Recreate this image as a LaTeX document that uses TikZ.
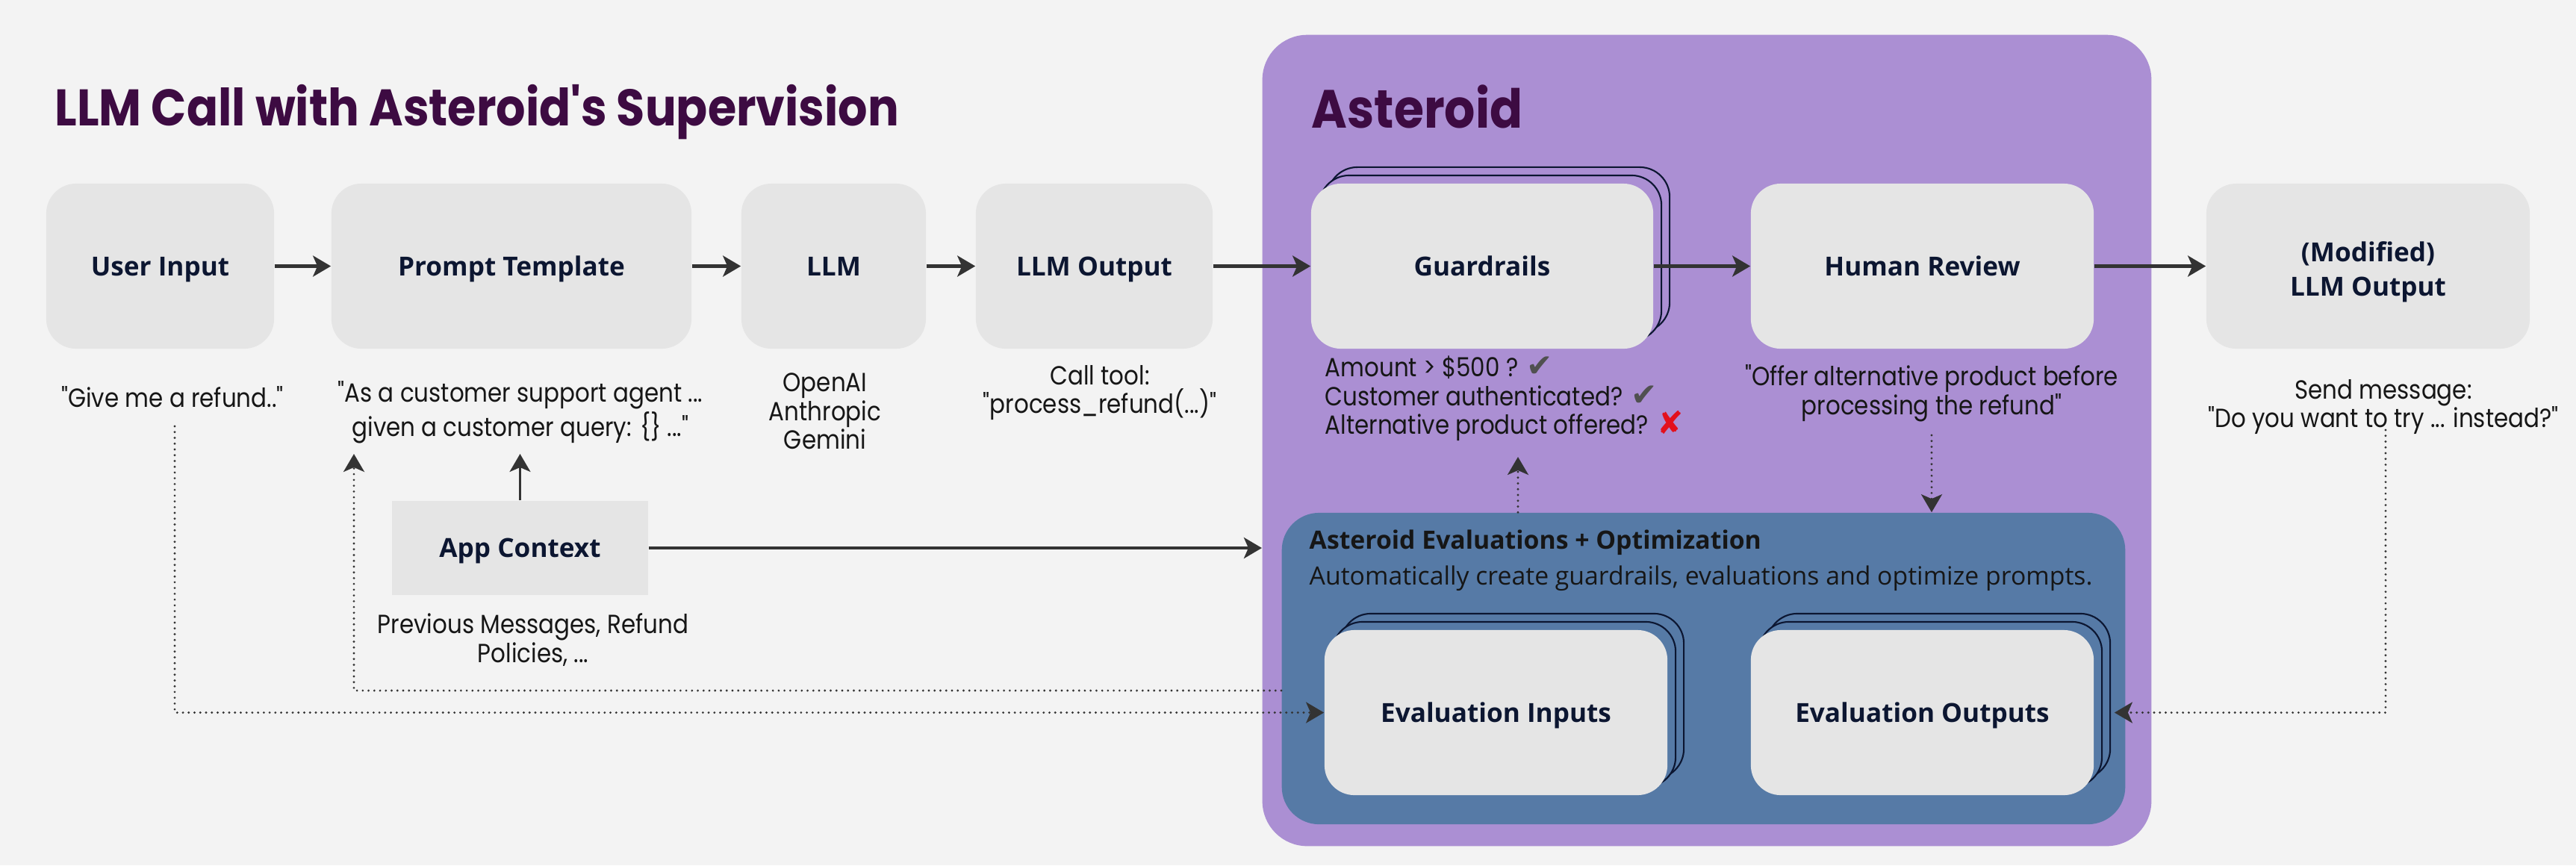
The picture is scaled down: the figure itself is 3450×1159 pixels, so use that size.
\documentclass[tikz,border=0pt]{standalone}
\usepackage{fontspec}
\setmainfont{Poppins}[Ligatures=TeXOff, FakeStretch=0.88]
\newfontfamily\headfont{Poppins}[Ligatures=TeXOff, FakeStretch=0.9]
\newfontfamily\boxfont{Open Sans}[Ligatures=TeXOff]
\newfontfamily\symfont{DejaVu Sans}
\usetikzlibrary{arrows.meta,shadows}
\definecolor{bggrey}{HTML}{F3F3F3}
\definecolor{cardgrey}{HTML}{E5E5E5}
\definecolor{astpurple}{HTML}{AB8FD3}
\definecolor{evalblue}{HTML}{567AA6}
\definecolor{plum}{HTML}{3D0B42}
\definecolor{navy}{HTML}{0C1631}
\definecolor{ink}{HTML}{161616}
\definecolor{arrowgrey}{HTML}{333333}
\definecolor{tickgrey}{HTML}{505050}
\definecolor{crossred}{HTML}{E3101C}
\tikzset{
  card/.style={rectangle, rounded corners=0.4cm, fill=cardgrey, minimum height=2.21cm, text=navy, align=center, text depth=0pt, font=\boxfont\bfseries\fontsize{10}{13}\selectfont},
  stack/.style={double copy shadow={shadow xshift=0.11cm, shadow yshift=0.11cm, fill=#1, draw=navy, line width=0.6pt}},
  note/.style={text=ink, align=center, inner sep=0pt, font=\fontsize{10}{11}\selectfont},
  flow/.style={draw=arrowgrey, line width=1.2pt, -{Stealth[length=0.24cm, width=0.28cm, inset=0.06cm]}},
  dotflow/.style={draw=arrowgrey, line width=0.9pt, line cap=round, dash pattern=on 0pt off 2.2pt, -{Stealth[length=0.24cm, width=0.28cm, inset=0.06cm]}}
}
\newcommand\okmark{{\symfont\fontsize{12}{11}\selectfont\textcolor{tickgrey}{✔}}}
\newcommand\nomark{{\symfont\fontsize{12}{11}\selectfont\textcolor{crossred}{✘}}}
\begin{document}
\begin{tikzpicture}[x=0.01cm, y=-0.01cm]
\path[use as bounding box, fill=bggrey] (0,0) rectangle (3450,1159);
\node[anchor=base west, inner sep=0pt, text=plum, font=\headfont\bfseries\fontsize{19.6}{24}\selectfont] (title) at (73,168) {LLM Call with Asteroid's Supervision};
% supervision area
\node[rectangle, rounded corners=0.6cm, fill=astpurple, minimum width=11.9cm, minimum height=10.86cm] (asteroid) at (2286,590) {};
\node[anchor=base west, inner sep=0pt, text=plum, font=\headfont\bfseries\fontsize{20.5}{25}\selectfont] (astname) at (1756,171) {Asteroid};
\node[rectangle, rounded corners=0.5cm, fill=evalblue, minimum width=11.29cm, minimum height=4.17cm] (evalbox) at (2281.5,895.5) {};
\node[anchor=west, inner sep=0pt, text=ink, font=\boxfont\bfseries\fontsize{9.6}{11}\selectfont] (evtitle) at (1753,727) {Asteroid Evaluations + Optimization};
\node[anchor=west, inner sep=0pt, text=ink, font=\boxfont\fontsize{9.6}{11}\selectfont] (evsub) at (1753,775) {Automatically create guardrails, evaluations and optimize prompts.};
% top row
\node[card, minimum width=3.05cm] (userin) at (214.5,356.5) {User Input};
\node[card, minimum width=4.82cm] (prompt) at (685,356.5) {Prompt Template};
\node[card, minimum width=2.47cm] (llm) at (1116.5,356.5) {LLM};
\node[card, minimum width=3.17cm] (llmout) at (1465.5,356.5) {LLM Output};
\node[card, stack=astpurple, minimum width=4.58cm] (guard) at (1985,356.5) {Guardrails};
\node[card, minimum width=4.59cm] (human) at (2574.5,356.5) {Human Review};
\node[card, text depth=, minimum width=4.33cm] (modout) at (3171.5,356.5) {\rule{0pt}{0.43cm}(Modified)\\LLM Output};
\node[card, rounded corners=0pt, minimum width=3.43cm, minimum height=1.26cm] (appctx) at (696.5,734) {App Context};
\node[card, stack=evalblue, minimum width=4.59cm] (evin) at (2003.5,954.5) {Evaluation Inputs};
\node[card, stack=evalblue, minimum width=4.59cm] (evout) at (2574.5,954.5) {Evaluation Outputs};
% notes
\node[note] (givetxt) at (231,532) {"Give me a refund.."};
\node[note] (prompttxt) at (697,552) {"As a customer support agent ...\\given a customer query: \{\} ..."};
\node[note] (llmtxt) at (1105,551) {OpenAI\\Anthropic\\Gemini};
\node[note] (calltxt) at (1473,526) {Call tool:\\"process\_refund(...)"};
\node[note, align=left, anchor=west] (guardtxt) at (1774,534) {Amount > \$500 ? \okmark\\Customer authenticated? \okmark\\Alternative product offered? \nomark};
\node[note] (humtxt) at (2587,527) {"Offer alternative product before\\processing the refund"};
\node[note] (sendtxt) at (3192,545) {Send message:\\"Do you want to try ... instead?"};
\node[note] (ctxtxt) at (714,857) {Previous Messages, Refund\\Policies, ...};
% connectors
\foreach \a/\b in {userin/prompt, prompt/llm, llm/llmout, llmout/guard, guard/human, human/modout}{\draw[flow] (\a) -- (\b);}
\coordinate (userdot) at (234,571);
\coordinate (ctxtip) at (474,608);
\coordinate (optrow) at (0,925);
\coordinate (guardtip) at (2033,612);
\coordinate (humtop) at (2587,583);
\coordinate (senddot) at (3195,576);
\draw[flow, line width=0.7pt] (appctx) -- (appctx.north |- ctxtip);
\draw[flow] (appctx) -- (appctx -| asteroid.west);
\draw[dotflow] (userdot) |- (evin.west);
\draw[dotflow] (evalbox.west |- optrow) -| (ctxtip);
\draw[dotflow] (guardtip |- evalbox.north) -- (guardtip);
\draw[dotflow] (humtop) -- (humtop |- evalbox.north);
\draw[dotflow, shorten >=0.27cm] (senddot) |- (evout.east);
\end{tikzpicture}
\end{document}
